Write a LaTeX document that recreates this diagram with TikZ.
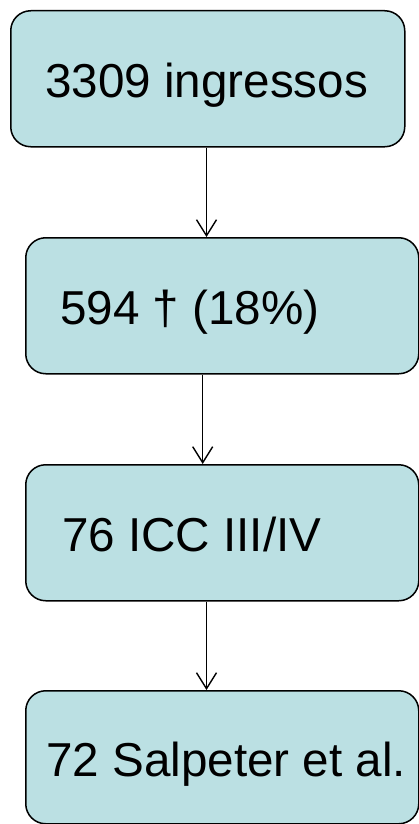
\documentclass[tikz,border=0pt]{standalone}
\usepackage{fontspec}
\setmainfont{Liberation Sans}
\usetikzlibrary{arrows.meta}
\definecolor{boxfill}{RGB}{187,224,227}
\tikzset{
  flowbox/.style={draw=black, line width=1.5pt, fill=boxfill, rounded corners=20pt,
    minimum width=#1, minimum height=136pt, inner sep=0pt, anchor=north west},
  boxtext/.style={anchor=base west, inner sep=0pt, font=\fontsize{47.6pt}{50pt}\selectfont},
  flowarrow/.style={line width=1.4pt, -{Straight Barb[length=16pt,width=20pt,line width=1.4pt]}}
}
\begin{document}
\begin{tikzpicture}[x=1pt,y=-1pt]
\useasboundingbox (0,0) rectangle (419,824);
\node[flowbox=394pt] (b1) at (10,10) {};
\node[flowbox=393pt] (b2) at (25,237) {};
\node[flowbox=393pt] (b3) at (25,464) {};
\node[flowbox=393pt, minimum height=133pt] (b4) at (25,690) {};
\node[boxtext] (t1) at (45,98) {3309 ingressos};
\node[boxtext] (t2) at (60,324) {594 † (18\%)};
\node[boxtext] (t3) at (62,551) {76 ICC III/IV};
\node[boxtext] (t4) at (46,776) {72 Salpeter et al.};
\coordinate (x1) at (206.5,0);
\coordinate (x2) at (202.7,0);
\coordinate (x3) at (206.5,0);
\draw[flowarrow] (b1.south -| x1) -- (b2.north -| x1);
\draw[flowarrow] (b2.south -| x2) -- (b3.north -| x2);
\draw[flowarrow] (b3.south -| x3) -- (b4.north -| x3);
\end{tikzpicture}
\end{document}
